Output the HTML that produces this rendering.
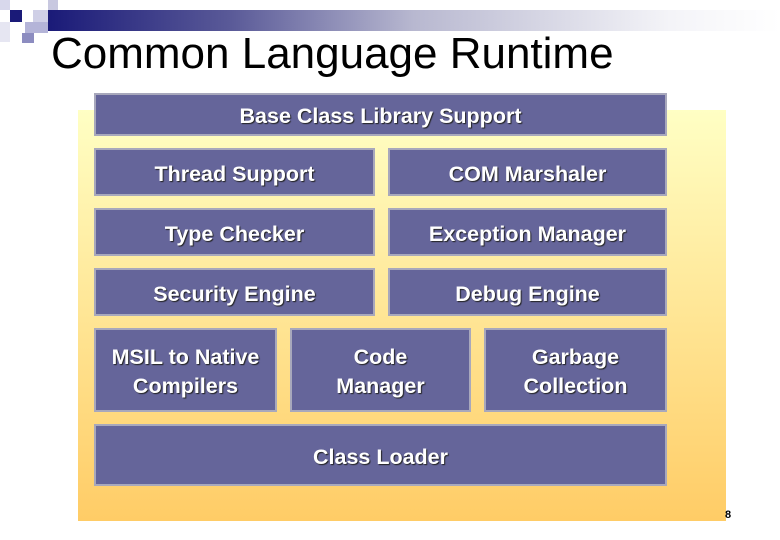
<!DOCTYPE html>
<html><head><style>
body{margin:0;width:780px;height:540px;background:#fff;position:relative;overflow:hidden;font-family:"Liberation Sans",Arial,Helvetica,sans-serif}
.a{position:absolute}
.b{position:absolute;background:#65659a;border:2px solid #a8a8bc;box-sizing:border-box;color:#fff;font-weight:bold;font-size:21.5px;display:flex;align-items:center;justify-content:center;text-align:center;line-height:29px;padding-top:4px;text-shadow:1px 1px 1px #222;font-family:"Liberation Sans",Arial,sans-serif}
</style></head><body>
<div class="a" style="left:48px;top:10px;width:732px;height:21px;background:linear-gradient(to right,#1a1a78,#5a5a98 25%,#b8b8d0 50%,#f4f4f8 85%,#fff)"></div>
<div class="a" style="left:0;top:0;width:10px;height:10px;background:#d8d8ec"></div>
<div class="a" style="left:10px;top:10px;width:12px;height:12px;background:#1a1a78"></div>
<div class="a" style="left:33px;top:10px;width:15px;height:12px;background:#cfcfe6"></div>
<div class="a" style="left:48px;top:0;width:10px;height:10px;background:#c8c8e0"></div>
<div class="a" style="left:25px;top:22px;width:23px;height:11px;background:#b4b4d8"></div>
<div class="a" style="left:22px;top:33px;width:12px;height:10px;background:#8c8cc0"></div>
<div class="a" style="left:0;top:22px;width:10px;height:20px;background:#e6e6f2"></div>
<div class="a" style="left:51px;top:29px;font-size:44px;color:#000;font-family:'Liberation Sans',Arial,sans-serif">Common Language Runtime</div>
<div class="a" style="left:78px;top:110px;width:648px;height:411px;background:linear-gradient(#ffffc4,#ffcc66)"></div>
<div class="b" style="left:94px;top:93px;width:573px;height:43px">Base Class Library Support</div>
<div class="b" style="left:94px;top:148px;width:281px;height:48px">Thread Support</div>
<div class="b" style="left:388px;top:148px;width:279px;height:48px">COM Marshaler</div>
<div class="b" style="left:94px;top:208px;width:281px;height:48px">Type Checker</div>
<div class="b" style="left:388px;top:208px;width:279px;height:48px">Exception Manager</div>
<div class="b" style="left:94px;top:268px;width:281px;height:48px">Security Engine</div>
<div class="b" style="left:388px;top:268px;width:279px;height:48px">Debug Engine</div>
<div class="b" style="left:94px;top:328px;width:183px;height:84px">MSIL to Native<br>Compilers</div>
<div class="b" style="left:290px;top:328px;width:181px;height:84px">Code<br>Manager</div>
<div class="b" style="left:484px;top:328px;width:183px;height:84px">Garbage<br>Collection</div>
<div class="b" style="left:94px;top:424px;width:573px;height:62px">Class Loader</div>
<div class="a" style="left:725px;top:509px;font-size:11px;font-weight:bold">8</div>
</body></html>
